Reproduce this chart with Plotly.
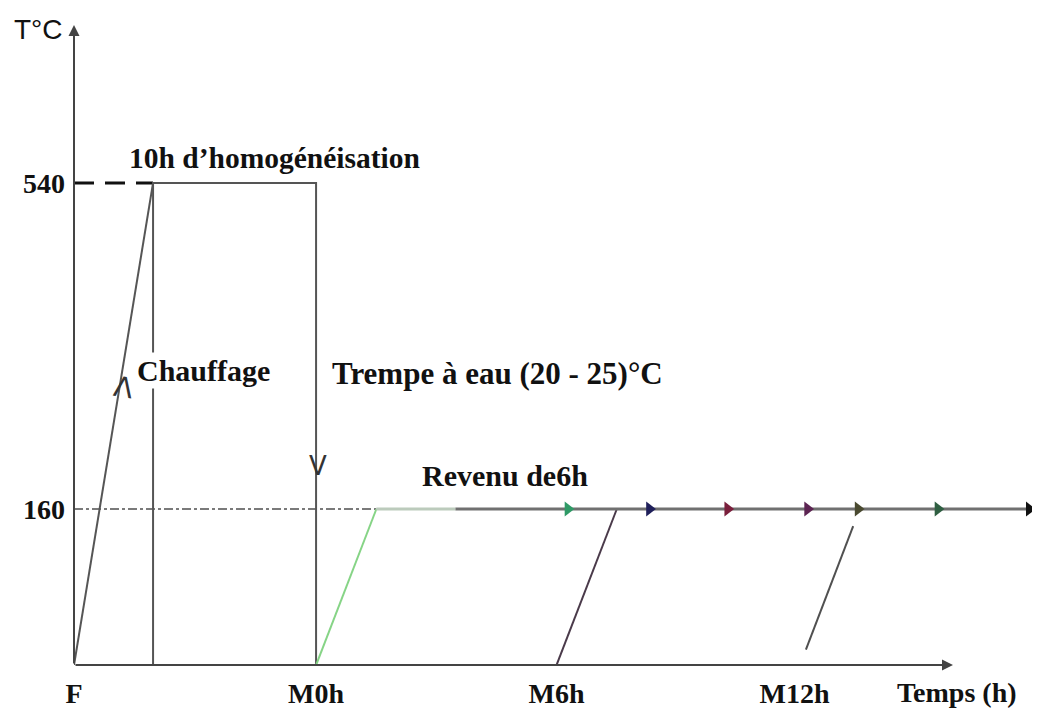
import plotly.graph_objects as go

# ---------------- data (schematic values) ----------------
T_base = -22                      # bottom of the schematic (axis level)
T_levels = [160, 540]             # labelled temperatures (°C)
T_labels = ["160", "540"]

tick_times = [0, 14.85, 29.6, 44.2]          # positions of the time marks (h, schematic)
tick_labels = ["F", "M0h", "M6h", "M12h"]

heat_t = [0, 4.85]                # Chauffage
heat_T = [T_base, 540]

hold_t = [4.85, 4.85, 14.85, 14.85]   # palier 10h + trempe
hold_T = [T_base, 540, 540, T_base]

ref540_t = [0, 4.85]
ref540_T = [540, 540]

ref160_t = [0, 18.55]
ref160_T = [160, 160]

rampM0_t = [14.85, 18.55]
rampM0_T = [T_base, 160]
rampM6_t = [29.6, 33.3]
rampM6_T = [T_base, 160]
rampM12_t = [44.9, 47.8]
rampM12_T = [-4, 140]

revenu_light_t = [18.55, 23.4]
revenu_light_T = [160, 160]
revenu_dark_t = [23.4, 58.6]
revenu_dark_T = [160, 160]

arrow_t = [30.3, 35.3, 40.1, 45.0, 48.1, 53.0, 58.6]
arrow_T = [160, 160, 160, 160, 160, 160, 160]
arrow_colors = ["#2f9a66", "#1f1f5a", "#7a1f3c", "#5c2452", "#4a4a30", "#2f5f42", "#111111"]

# ---------------- layout (the page has an 8px body margin) ----------------
OFF = 8
W, H = 1040 - OFF, 710 - OFF
L, T_M, B_M = 74 - OFF, 28 - OFF, 45
X_RANGE = [0, 59.26]
Y_RANGE = [-21.8, 720.6]
PW, PH = W - L, H - T_M - B_M

def X(px):   # window pixel -> data x
    return X_RANGE[0] + (px - OFF - L) / PW * (X_RANGE[1] - X_RANGE[0])

def Y(py):   # window pixel -> data y
    return Y_RANGE[1] - (py - OFF - T_M) / PH * (Y_RANGE[1] - Y_RANGE[0])

def PXp(px):  # window pixel -> paper x
    return (px - OFF - L) / PW

def PYp(py):  # window pixel -> paper y
    return 1 - (py - OFF - T_M) / PH

SERIF = "Liberation Serif"
TXT = dict(family=SERIF, size=30, color="#111", weight="bold")

fig = go.Figure()

def line(x, y, color, width=2, dash="solid"):
    fig.add_trace(go.Scatter(x=x, y=y, mode="lines", line=dict(color=color, width=width, dash=dash),
                             hoverinfo="skip", cliponaxis=False))

line(ref160_t, ref160_T, "#7a7a7a", 2, "dashdot")
line(ref540_t, ref540_T, "#111111", 3, "20px,11px")
line(heat_t, heat_T, "#555555", 2)
line(hold_t, hold_T, "#555555", 2)
line(rampM0_t, rampM0_T, "#86d486", 2)
line(rampM6_t, rampM6_T, "#4a3a4a", 2)
line(rampM12_t, rampM12_T, "#505050", 2)
line(revenu_light_t, revenu_light_T, "#bccbbc", 3)
line(revenu_dark_t, revenu_dark_T, "#707070", 3)

fig.add_trace(go.Scatter(x=arrow_t, y=arrow_T, mode="markers",
                         marker=dict(symbol="triangle-right", size=13, color=arrow_colors),
                         hoverinfo="skip", cliponaxis=False))

annotations = [
    # axes arrows (paper refs so that they are never hidden)
    dict(x=PXp(74), y=PYp(25), xref="paper", yref="paper", axref="pixel", ayref="pixel",
         ax=0, ay=665 - 25, showarrow=True, arrowhead=2, arrowsize=1.1, arrowwidth=2,
         arrowcolor="#444444", text=""),
    dict(x=PXp(953), y=PYp(665), xref="paper", yref="paper", axref="pixel", ayref="pixel",
         ax=-(953 - 74), ay=0, showarrow=True, arrowhead=2, arrowsize=1.1, arrowwidth=2,
         arrowcolor="#444444", text=""),
    # texts
    dict(x=PXp(38), y=PYp(29), xref="paper", yref="paper", text="T°C", showarrow=False,
         xanchor="center", yanchor="middle", font=dict(family="Liberation Sans", size=28, color="#111")),
    dict(x=PXp(895), y=PYp(692), xref="paper", yref="paper", text="Temps (h)", showarrow=False,
         xanchor="left", yanchor="middle", font=dict(family=SERIF, size=28, color="#111", weight="bold")),
    dict(x=X(127), y=Y(158), text="10h d’homogénéisation", showarrow=False, xanchor="left", yanchor="middle",
         font=dict(family=SERIF, size=29.5, color="#111", weight="bold")),
    dict(x=X(135), y=Y(370), text="Chauffage", showarrow=False, xanchor="left", yanchor="middle",
         bgcolor="white", font=TXT),
    dict(x=X(330), y=Y(373), text="Trempe à eau (20 - 25)°C", showarrow=False, xanchor="left", yanchor="middle",
         font=dict(family=SERIF, size=31, color="#111", weight="bold")),
    dict(x=X(420), y=Y(475), text="Revenu de6h", showarrow=False, xanchor="left", yanchor="middle",
         font=TXT),
    # direction chevrons
    dict(x=X(123), y=Y(387), text="Λ", showarrow=False, xanchor="center", yanchor="middle", textangle=9,
         font=dict(family="DejaVu Sans", size=28, color="#333")),
    dict(x=X(318), y=Y(466), text="V", showarrow=False, xanchor="center", yanchor="middle",
         font=dict(family="DejaVu Sans", size=26, color="#333")),
]

fig.update_layout(
    width=W, height=H,
    margin=dict(l=L, r=0, t=T_M, b=B_M, pad=0),
    paper_bgcolor="white", plot_bgcolor="white",
    showlegend=False,
    annotations=annotations,
    xaxis=dict(range=X_RANGE, showgrid=False, zeroline=False, showline=False, ticks="",
               tickvals=tick_times, ticktext=tick_labels, ticklabelstandoff=9,
               tickfont=dict(family=SERIF, size=28, color="#111", weight="bold")),
    yaxis=dict(range=Y_RANGE, showgrid=False, zeroline=False, showline=False, ticks="",
               tickvals=T_levels, ticktext=T_labels, ticklabelstandoff=8,
               tickfont=dict(family=SERIF, size=28, color="#111", weight="bold")),
)

fig.write_html("out.html")
